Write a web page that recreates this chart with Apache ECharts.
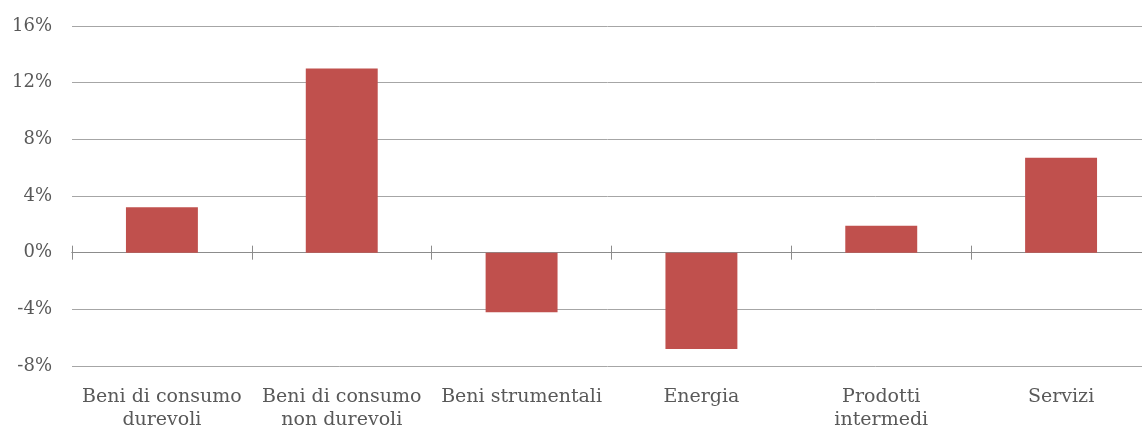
<!DOCTYPE html>
<html>
<head>
<meta charset="utf-8">
<style>
  html, body { margin: 0; padding: 0; background: #ffffff; }
  #chart { width: 1142px; height: 428px; }
</style>
<script src="https://cdn.jsdelivr.net/npm/echarts@6/dist/echarts.min.js"></script>
</head>
<body>
<div id="chart"></div>
<script>
// Sectors and their year-on-year change (%)
const categories = [
  'Beni di consumo\ndurevoli',
  'Beni di consumo\nnon durevoli',
  'Beni strumentali',
  'Energia',
  'Prodotti\nintermedi',
  'Servizi'
];
const values = [3.2, 13.0, -4.2, -6.8, 1.9, 6.7];
const yTicks = { min: -8, max: 16, interval: 4 };

const FONT = 'DejaVu Serif';
const TEXT = '#595959';

const chart = echarts.init(document.getElementById('chart'), null, { renderer: 'canvas' });

// Zero line with tick marks crossing it: one axis ticks downward, the other upward
const tickAxis = (position, yIndex) => ({
  type: 'category',
  data: categories,
  position: position,
  axisLine: { show: true, onZero: true, onZeroAxisIndex: yIndex, lineStyle: { color: '#8c8c8c', width: 1 } },
  axisTick: { show: true, inside: false, length: 7, lineStyle: { color: '#8c8c8c', width: 1 } },
  axisLabel: { show: false },
  splitLine: { show: false }
});

chart.setOption({
  animation: false,
  grid: {
    left: 72, top: 26, width: 1079, height: 340,
    containLabel: false,
    outerBoundsMode: 'none'
  },
  xAxis: [
    {
      type: 'category',
      data: categories,
      position: 'bottom',
      axisLine: { show: false, onZero: false },
      axisTick: { show: false },
      axisLabel: {
        interval: 0,
        margin: 20,
        color: TEXT,
        fontFamily: FONT,
        fontSize: 19,
        lineHeight: 23,
        verticalAlign: 'top'
      }
    },
    tickAxis('bottom', 0),
    tickAxis('top', 1)
  ],
  yAxis: [
    {
      type: 'value',
      min: yTicks.min,
      max: yTicks.max,
      interval: yTicks.interval,
      axisLine: { show: false },
      axisTick: { show: false },
      axisLabel: {
        margin: 20,
        color: TEXT,
        fontFamily: FONT,
        fontSize: 18,
        formatter: (v) => v + '%'
      },
      splitLine: { show: true, lineStyle: { color: '#a6a6a6', width: 1 } }
    },
    {
      type: 'value',
      min: yTicks.min,
      max: yTicks.max,
      interval: yTicks.interval,
      axisLine: { show: false },
      axisTick: { show: false },
      axisLabel: { show: false },
      splitLine: { show: false }
    }
  ],
  series: [{
    type: 'bar',
    xAxisIndex: 0,
    yAxisIndex: 0,
    data: values,
    barWidth: '40%',
    itemStyle: { color: '#c0504d' }
  }]
});
</script>
</body>
</html>
